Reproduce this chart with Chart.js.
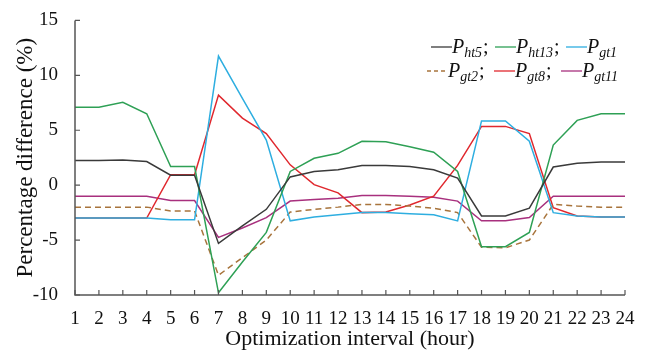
<!DOCTYPE html>
<html>
<head>
<meta charset="utf-8">
<script src="https://cdn.jsdelivr.net/npm/chart.js@4.4.0/dist/chart.umd.min.js"></script>
<style>
html,body{margin:0;padding:0;background:#fff;}
#wrap{width:646px;height:354px;}
</style>
</head>
<body>
<div id="wrap"><canvas id="c" width="646" height="354"></canvas></div>
<script>
const hours = ['1','2','3','4','5','6','7','8','9','10','11','12','13','14','15','16','17','18','19','20','21','22','23','24'];
const yTicks = [-10,-5,0,5,10,15];

const pht5  = [2.25,2.25,2.3,2.15,0.9,0.9,-5.3,-3.7,-2.2,0.75,1.25,1.4,1.8,1.8,1.7,1.4,0.65,-2.8,-2.8,-2.1,1.65,2.0,2.1,2.1];
const pht13 = [7.1,7.1,7.55,6.5,1.7,1.7,-9.8,-7.0,-4.3,1.25,2.45,2.9,4.0,3.95,3.5,3.0,1.25,-5.6,-5.6,-4.3,3.65,5.9,6.5,6.5];
const pgt1  = [-3.0,-3.0,-3.0,-3.0,-3.15,-3.15,11.75,7.9,4.1,-3.25,-2.9,-2.7,-2.5,-2.5,-2.6,-2.7,-3.25,5.85,5.85,4.0,-2.5,-2.8,-2.9,-2.9];
const pgt2  = [-2.0,-2.0,-2.0,-2.0,-2.35,-2.35,-8.2,-6.6,-5.0,-2.45,-2.2,-2.0,-1.75,-1.75,-1.9,-2.1,-2.5,-5.65,-5.7,-5.0,-1.75,-1.9,-2.0,-2.0];
const pgt8  = [-3.0,-3.0,-3.0,-3.0,0.95,0.95,8.2,6.1,4.7,1.85,0.05,-0.7,-2.5,-2.45,-1.8,-1.0,1.8,5.35,5.35,4.7,-2.05,-2.8,-2.9,-2.9];
const pgt11 = [-1.0,-1.0,-1.0,-1.0,-1.4,-1.4,-4.75,-3.9,-2.95,-1.45,-1.3,-1.2,-0.95,-0.95,-1.0,-1.1,-1.45,-3.25,-3.25,-2.95,-1.0,-1.0,-1.0,-1.0];

const names = [['ht5',';'],['ht13',';'],['gt1',''],['gt2',';'],['gt8',';'],['gt11','']];
const colors = ['#3a3a3a','#2ea055','#2eaee0','#a8743c','#e0282e','#a8307e'];
const series = [pht5,pht13,pgt1,pgt2,pgt8,pgt11];

const SERIF = '"Liberation Serif","Times New Roman",serif';

const datasets = series.map((d,i)=>({
  label:'P'+names[i][0],
  data:d,
  borderColor:colors[i],
  backgroundColor:colors[i],
  borderWidth:1.5,
  borderDash: i===3 ? [6,4] : [],
  pointRadius:0,
  tension:0,
  fill:false
}));

const axesPlugin = {
  id:'axesPlugin',
  afterDraw(chart){
    const ctx = chart.ctx;
    const xs = chart.scales.x, ys = chart.scales.y;
    const ca = chart.chartArea;
    ctx.save();
    ctx.strokeStyle = '#555';
    ctx.lineWidth = 1.5;
    ctx.beginPath();
    ctx.moveTo(ca.left, ca.top); ctx.lineTo(ca.left, ca.bottom); ctx.lineTo(ca.right, ca.bottom);
    ctx.stroke();
    ctx.lineWidth = 1.2;
    ctx.beginPath();
    yTicks.forEach(v=>{ const y = ys.getPixelForValue(v); ctx.moveTo(ca.left, y); ctx.lineTo(ca.left+5, y); });
    hours.forEach((h,i)=>{ const x = xs.getPixelForValue(i); ctx.moveTo(x, ca.bottom); ctx.lineTo(x, ca.bottom-5); });
    ctx.stroke();

    // legend
    const rows = [[0,1,2],[3,4,5]];
    const rowY = [47, 71];
    const startX = [[431,495,566],[427,494,561]];
    rows.forEach((r,ri)=>{
      r.forEach((si,k)=>{
        let x = startX[ri][k];
        const y = rowY[ri];
        ctx.strokeStyle = colors[si];
        ctx.lineWidth = 1.3;
        ctx.setLineDash(si===3 ? [4,3] : []);
        ctx.beginPath(); ctx.moveTo(x, y); ctx.lineTo(x+21, y); ctx.stroke();
        ctx.setLineDash([]);
        x += 21;
        ctx.fillStyle = '#111';
        ctx.textBaseline = 'alphabetic';
        ctx.textAlign = 'left';
        ctx.font = 'italic 20px '+SERIF;
        ctx.fillText('P', x, y+6);
        x += ctx.measureText('P').width;
        ctx.font = 'italic 14px '+SERIF;
        ctx.fillText(names[si][0], x, y+10);
        x += ctx.measureText(names[si][0]).width;
        if (names[si][1]) {
          ctx.font = '20px '+SERIF;
          ctx.fillText(names[si][1], x+1, y+6);
        }
      });
    });
    ctx.restore();
  }
};

new Chart(document.getElementById('c'), {
  type:'line',
  data:{labels:hours, datasets},
  options:{
    responsive:false,
    animation:false,
    devicePixelRatio:1,
    layout:{padding:{top:17,right:21,left:0,bottom:0}},
    plugins:{legend:{display:false}, tooltip:{enabled:false}},
    scales:{
      x:{
        offset:false,
        grid:{display:false},
        border:{display:false},
        ticks:{color:'#111', font:{family:SERIF, size:19}, padding:5, maxRotation:0, autoSkip:false},
        title:{display:true, text:'Optimization interval (hour)', color:'#111', font:{family:SERIF, size:22}, padding:{top:0,bottom:2}},
        afterFit(s){ s.height = 59; }
      },
      y:{
        min:-10, max:15,
        grid:{display:false},
        border:{display:false},
        afterBuildTicks(s){ s.ticks = yTicks.map(v=>({value:v})); },
        ticks:{color:'#111', font:{family:SERIF, size:19}, padding:9},
        title:{display:true, text:'Percentage difference (%)', color:'#111', font:{family:SERIF, size:23}, padding:{top:12,bottom:0}},
        afterFit(s){ s.width = 75; }
      }
    }
  },
  plugins:[axesPlugin]
});
</script>
</body>
</html>
